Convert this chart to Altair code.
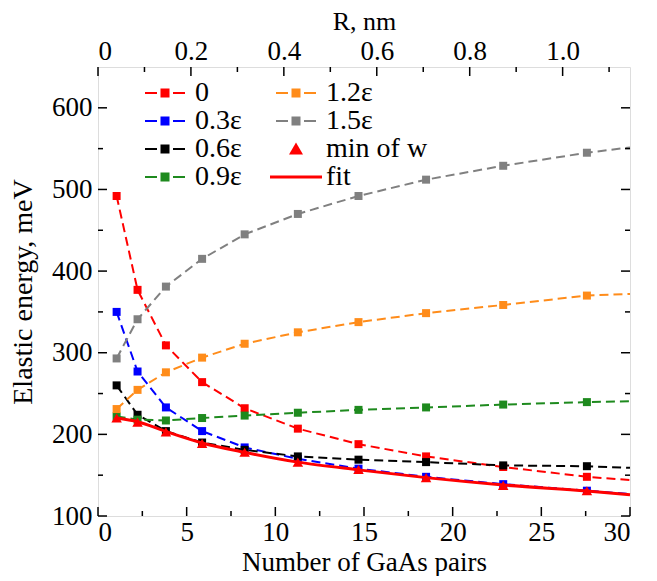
import altair as alt
import pandas as pd

# ---------------- data ----------------
N_PAIRS = [1.05, 2.23, 3.83, 5.87, 8.27, 11.27, 14.69, 18.5, 22.85, 27.57]
N_EDGE = 30.0
SERIES = ["0", "0.3ε", "0.6ε", "0.9ε", "1.2ε", "1.5ε"]
E_0 = [492, 377, 309, 264, 232, 207, 188, 173, 160, 148]
E_03 = [350, 277, 233, 204, 184, 170, 158, 148, 139, 131]
E_06 = [260, 224, 204, 190, 181, 173, 169, 166, 162, 161]
E_09 = [222, 218, 217, 220, 223, 226.5, 230, 233, 236.5, 239.5]
E_12 = [231, 254.5, 276, 294, 311, 325, 337.5, 348.5, 358.5, 370]
E_15 = [293, 341, 381, 415, 445, 470, 492, 512, 529, 545]
EDGE_VALUES = [144, 127, 159, 240.5, 372, 551.5]  # dashed curves where they leave the frame (N = 30)
MIN_W = [220, 215, 203, 189, 178, 166, 157, 147, 137.5, 131]
FIT_N = [1.05, 2.23, 3.83, 5.87, 8.27, 11.27, 14.69, 18.5, 22.85, 27.57, 30.0]
FIT_E = [220, 215.5, 203.5, 189.5, 178, 166, 156.5, 147, 138, 130.5, 126]

# axis ticks
X_MAJOR = [0, 5, 10, 15, 20, 25, 30]
X_MINOR = [2.5, 7.5, 12.5, 17.5, 22.5, 27.5]
Y_MAJOR = [100, 200, 300, 400, 500, 600]
Y_MINOR = [150, 250, 350, 450, 550]
R_MAJOR = [0, 0.2, 0.4, 0.6, 0.8, 1.0]
R_MINOR = [0.1, 0.3, 0.5, 0.7, 0.9, 1.1]
R_MAX = 1.145

# legend (filled column by column, two columns)
LEGEND_ORDER = ["0", "0.3ε", "0.6ε", "0.9ε", "1.2ε", "1.5ε", "min of w", "fit"]
LEGEND_COLORS = ["#ff0000", "#0000ff", "#000000", "#1e8a1e", "#ff8c1a", "#808080", "#ff0000", "#ff0000"]
DASH_SQ = "M-2,-0.1H-0.8V0.1H-2Z M-0.45,-0.45H0.45V0.45H-0.45Z M0.8,-0.1H2V0.1H0.8Z"
TRI = "M0,-0.65L0.7,0.55L-0.7,0.55Z"
FIT_SYM = "M-2.6,-0.15H2.6V0.15H-2.6Z"
LEGEND_SHAPES = [DASH_SQ, DASH_SQ, DASH_SQ, DASH_SQ, DASH_SQ, DASH_SQ, TRI, FIT_SYM]

FONT = "Liberation Serif"
W, H = 532, 449

# ---------------- tables ----------------
vals = [E_0, E_03, E_06, E_09, E_12, E_15]
rows_pts, rows_lines = [], []
for s, v, edge in zip(SERIES, vals, EDGE_VALUES):
    for n, e in zip(N_PAIRS, v):
        rows_pts.append({"series": s, "N": n, "E": e})
        rows_lines.append({"series": s, "N": n, "E": e})
    rows_lines.append({"series": s, "N": N_EDGE, "E": edge})
pts_df = pd.DataFrame(rows_pts)
lines_df = pd.DataFrame(rows_lines)
tri_df = pd.DataFrame({"N": N_PAIRS, "E": MIN_W})
fit_df = pd.DataFrame({"N": FIT_N, "E": FIT_E})
leg_df = pd.DataFrame({"series": LEGEND_ORDER, "N": [-5.0] * len(LEGEND_ORDER),
                       "E": [300.0] * len(LEGEND_ORDER)})

xscale = alt.Scale(domain=[0, 30], nice=False, zero=False)
yscale = alt.Scale(domain=[100, 650], nice=False, zero=False)
cscale = alt.Scale(domain=LEGEND_ORDER, range=LEGEND_COLORS)

axis_common = dict(ticks=False, domain=False, grid=False, labelFont=FONT, labelFontSize=27,
                   labelColor="black", titleFont=FONT, titleFontWeight="normal",
                   titleColor="black")

x_axis = alt.Axis(values=X_MAJOR, labelPadding=3, titleY=60, titleBaseline="bottom",
                  titleFontSize=27, **axis_common)
y_axis = alt.Axis(values=Y_MAJOR, labelPadding=6, titlePadding=14, titleFontSize=28, format="d",
                  **axis_common)

x_main = alt.X("N:Q", scale=xscale, axis=x_axis, title="Number of GaAs pairs")
y_main = alt.Y("E:Q", scale=yscale, axis=y_axis, title="Elastic energy, meV")
x_plain = alt.X("N:Q", scale=xscale, axis=None)
y_plain = alt.Y("E:Q", scale=yscale, axis=None)

lines = alt.Chart(lines_df).mark_line(strokeDash=[9, 5], strokeWidth=2).encode(
    x=x_main, y=y_main,
    color=alt.Color("series:N", scale=cscale, legend=None),
    detail="series:N",
)
squares = alt.Chart(pts_df).mark_square(size=64, opacity=1).encode(
    x=x_plain, y=y_plain,
    color=alt.Color("series:N", scale=cscale, legend=None),
)
fit = alt.Chart(fit_df).mark_line(color="#ff0000", strokeWidth=3, interpolate="monotone").encode(
    x=x_plain, y=y_plain)
tris = alt.Chart(tri_df).mark_point(shape="triangle-up", filled=True, size=110, opacity=1,
                                    color="#ff0000").encode(x=x_plain, y=y_plain)

legend_layer = alt.Chart(leg_df).mark_point(filled=True, clip=True, size=400, opacity=1).encode(
    x=x_plain, y=y_plain,
    color=alt.Color("series:N", scale=cscale, legend=alt.Legend(
        orient="none", legendX=53, legendY=12, columns=2, columnPadding=28, rowPadding=0,
        title=None, labelFont=FONT, labelFontSize=28, labelColor="black", labelOffset=16,
        symbolSize=400, symbolStrokeWidth=0, padding=0, offset=0)),
    shape=alt.Shape("series:N", scale=alt.Scale(domain=LEGEND_ORDER, range=LEGEND_SHAPES)),
)

# inward ticks
def xticks(values, length):
    df = pd.DataFrame({"N": values})
    return alt.Chart(df).mark_rule(color="black", strokeWidth=1.5).encode(
        x=x_plain, y=alt.value(H), y2=alt.value(H - length))

def yticks(values, length, right=False):
    df = pd.DataFrame({"E": values})
    if right:
        return alt.Chart(df).mark_rule(color="black", strokeWidth=1.5).encode(
            y=y_plain, x=alt.value(W), x2=alt.value(W - length))
    return alt.Chart(df).mark_rule(color="black", strokeWidth=1.5).encode(
        y=y_plain, x=alt.value(0), x2=alt.value(length))

inner = alt.layer(
    lines, squares, fit, tris, legend_layer,
    xticks(X_MAJOR, 9), xticks(X_MINOR, 5),
    yticks(Y_MAJOR, 9), yticks(Y_MINOR, 5),
    yticks(Y_MAJOR, 9, right=True), yticks(Y_MINOR, 5, right=True),
).resolve_axis(x="independent", y="independent").resolve_legend(
    color="independent", shape="independent")

r_axis = alt.Axis(values=R_MAJOR, orient="top", labelPadding=2, titleY=-46, titleBaseline="middle",
                  titleFontSize=26,
                  labelExpr="datum.value == 0 ? '0' : format(datum.value, '.1f')", **axis_common)
rscale = alt.Scale(domain=[0, R_MAX], nice=False, zero=False)
r_major = alt.Chart(pd.DataFrame({"R": R_MAJOR})).mark_rule(color="black", strokeWidth=1.5).encode(
    x=alt.X("R:Q", scale=rscale, axis=r_axis, title="R, nm"), y=alt.value(0), y2=alt.value(9))
r_minor = alt.Chart(pd.DataFrame({"R": R_MINOR})).mark_rule(color="black", strokeWidth=1.5).encode(
    x=alt.X("R:Q", scale=rscale, axis=None), y=alt.value(0), y2=alt.value(5))
rlayer = alt.layer(r_major, r_minor).resolve_axis(x="independent")

chart = alt.layer(inner, rlayer).resolve_scale(x="independent").properties(
    width=W, height=H,
    padding={"left": 90, "top": 59, "right": 19, "bottom": 60},
    autosize=alt.AutoSizeParams(type="none"),
).configure_view(stroke="black", strokeWidth=2).configure(background="white")

chart.save("out.html", embed_options={"renderer": "svg", "actions": False})
